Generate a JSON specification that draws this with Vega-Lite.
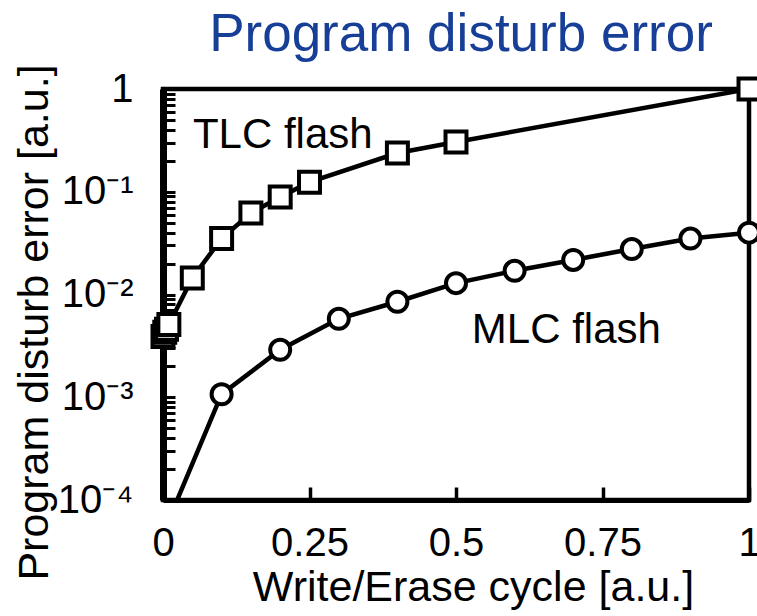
{
  "$schema": "https://vega.github.io/schema/vega-lite/v6.json",
  "width": 586,
  "height": 411,
  "autosize": "none",
  "padding": {"left": 163, "top": 89, "right": 8, "bottom": 116},
  "background": "white",
  "title": {"text": "Program disturb error", "fontSize": 53, "font": "Liberation Sans", "fontWeight": "normal", "color": "#173f97", "anchor": "middle", "offset": 2, "dx": 5},
  "config": {"view": {"stroke": "black", "strokeWidth": 4.5}, "font": "Liberation Sans"},
  "datasets": {
    "pts": [
      {"series": "TLC", "x": 0, "y": 0.0039},
      {"series": "TLC", "x": 0.003, "y": 0.0043},
      {"series": "TLC", "x": 0.006, "y": 0.0046},
      {"series": "TLC", "x": 0.01, "y": 0.0051},
      {"series": "TLC", "x": 0.05, "y": 0.0145},
      {"series": "TLC", "x": 0.1, "y": 0.035},
      {"series": "TLC", "x": 0.15, "y": 0.062},
      {"series": "TLC", "x": 0.2, "y": 0.089},
      {"series": "TLC", "x": 0.25, "y": 0.124},
      {"series": "TLC", "x": 0.4, "y": 0.238},
      {"series": "TLC", "x": 0.5, "y": 0.305},
      {"series": "TLC", "x": 1, "y": 1},
      {"series": "MLC", "x": 0, "y": 0.000047},
      {"series": "MLC", "x": 0.1, "y": 0.00107},
      {"series": "MLC", "x": 0.2, "y": 0.0029},
      {"series": "MLC", "x": 0.3, "y": 0.0058},
      {"series": "MLC", "x": 0.4, "y": 0.0085},
      {"series": "MLC", "x": 0.5, "y": 0.0129},
      {"series": "MLC", "x": 0.6, "y": 0.017},
      {"series": "MLC", "x": 0.7, "y": 0.0217},
      {"series": "MLC", "x": 0.8, "y": 0.0277},
      {"series": "MLC", "x": 0.9, "y": 0.035},
      {"series": "MLC", "x": 1, "y": 0.04}
    ],
    "tlcLabel": [{"label": "TLC flash"}],
    "mlcLabel": [{"label": "MLC flash"}]
  },
  "layer": [
    {
      "data": {"name": "pts"},
      "mark": {"type": "line", "color": "black", "strokeWidth": 4.5, "clip": true},
      "encoding": {
        "x": {
          "field": "x", "type": "quantitative",
          "scale": {"domain": [0, 1], "nice": false, "zero": false},
          "axis": {
            "values": [0, 0.25, 0.5, 0.75, 1], "format": ".2~f",
            "title": "Write/Erase cycle [a.u.]", "titleFontSize": 43, "titleFontWeight": "normal", "titleColor": "black",
            "titleX": 310, "titleY": 100, "titleBaseline": "alphabetic", "titleAlign": "center",
            "labelFontSize": 40, "labelColor": "black", "labelPadding": 36, "labelBaseline": "top",
            "labelFlush": false, "labelOverlap": false,
            "tickSize": -13, "tickWidth": 3.5, "tickColor": "black",
            "domainColor": "black", "domainWidth": 5, "grid": false
          }
        },
        "y": {
          "field": "y", "type": "quantitative",
          "scale": {"type": "log", "domain": [0.0001, 1], "nice": false},
          "axis": {
            "values": [0.0001, 0.0002, 0.0003, 0.0004, 0.0005, 0.0006, 0.0007, 0.0008, 0.0009, 0.001, 0.002, 0.003, 0.004, 0.005, 0.006, 0.007, 0.008, 0.009, 0.01, 0.02, 0.03, 0.04, 0.05, 0.06, 0.07, 0.08, 0.09, 0.1, 0.2, 0.3, 0.4, 0.5, 0.6, 0.7, 0.8, 0.9, 1],
            "title": "Program disturb error [a.u.]", "titleFontSize": 43, "titleFontWeight": "normal", "titleColor": "black",
            "titleX": -116, "titleY": 233, "titleBaseline": "alphabetic", "titleAlign": "center",
            "labelExpr": "abs(log(datum.value)/LN10 - round(log(datum.value)/LN10)) > 0.001 ? '' : (round(log(datum.value)/LN10) == 0 ? '1' : '10' + ['⁰','⁻¹','⁻²','⁻³','⁻⁴'][-round(log(datum.value)/LN10)])",
            "labelFontSize": 40, "labelColor": "black", "labelPadding": 42, "labelOverlap": false, "labelFlush": false,
            "tickSize": -12, "tickWidth": 3, "tickColor": "black",
            "domainColor": "black", "domainWidth": 7, "grid": false
          }
        },
        "detail": {"field": "series"}
      }
    },
    {
      "data": {"name": "pts"},
      "transform": [{"filter": "datum.y >= 0.0001"}],
      "mark": {"type": "point", "filled": true, "fill": "white", "stroke": "black", "strokeWidth": 4, "opacity": 1},
      "encoding": {
        "x": {"field": "x", "type": "quantitative"},
        "y": {"field": "y", "type": "quantitative"},
        "shape": {"field": "series", "type": "nominal", "scale": {"domain": ["TLC", "MLC"], "range": ["square", "circle"]}, "legend": null},
        "size": {"field": "series", "type": "nominal", "scale": {"domain": ["TLC", "MLC"], "range": [440, 400]}, "legend": null}
      }
    },
    {
      "data": {"name": "tlcLabel"},
      "mark": {"type": "text", "align": "left", "baseline": "alphabetic", "fontSize": 42, "font": "Liberation Sans", "color": "black"},
      "encoding": {
        "x": {"datum": 0.051, "type": "quantitative"},
        "y": {"datum": 0.267, "type": "quantitative"},
        "text": {"field": "label"}
      }
    },
    {
      "data": {"name": "mlcLabel"},
      "mark": {"type": "text", "align": "left", "baseline": "alphabetic", "fontSize": 42, "font": "Liberation Sans", "color": "black"},
      "encoding": {
        "x": {"datum": 0.527, "type": "quantitative"},
        "y": {"datum": 0.0034, "type": "quantitative"},
        "text": {"field": "label"}
      }
    }
  ]
}
